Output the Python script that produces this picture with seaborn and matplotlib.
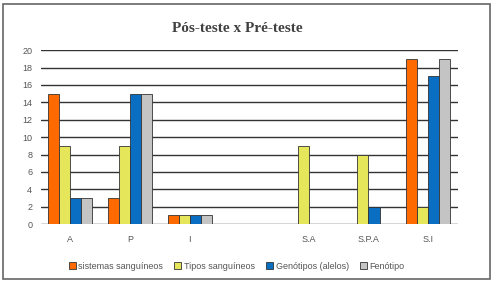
import matplotlib
matplotlib.use("Agg")
import matplotlib.pyplot as plt
import seaborn as sns
import pandas as pd
from matplotlib.patches import Rectangle

categories = ["A", "P", "I", " ", "S.A", "S.P.A", "S.I"]
series_names = ["sistemas sanguíneos", "Tipos sanguíneos", "Genótipos (alelos)", "Fenótipo"]
sistemas = [15, 3, 1, 0, 0, 0, 19]
tipos = [9, 9, 1, 0, 9, 8, 2]
genotipos = [3, 15, 1, 0, 0, 2, 17]
fenotipo = [3, 15, 1, 0, 0, 0, 19]
yticks = [0, 2, 4, 6, 8, 10, 12, 14, 16, 18, 20]

colors = ["#FF6A00", "#E6E65A", "#0A6FC2", "#C4C4C4"]

rows = []
for name, vals in zip(series_names, [sistemas, tipos, genotipos, fenotipo]):
    for c, v in zip(categories, vals):
        rows.append({"cat": c, "serie": name, "val": v})
df = pd.DataFrame(rows)

sns.set_style("white")
plt.rcParams['font.family'] = ['Liberation Sans', 'DejaVu Sans']

fig = plt.figure(figsize=(4.94, 2.82), dpi=100)
ax = fig.add_axes([0.082, 0.205, 0.845, 0.617])

sns.barplot(data=df, x="cat", y="val", hue="serie", order=categories,
            hue_order=series_names, palette=colors, width=0.74, saturation=1,
            edgecolor="#333333", linewidth=0.6, ax=ax, legend=True, zorder=3)

ax.set_ylim(0, 20)
ax.set_xlim(-0.5, 6.5)
ax.set_yticks(yticks)
ax.set_yticklabels([str(t) for t in yticks], fontsize=6.5, color="#555555")
ax.tick_params(axis="x", labelsize=6.5, colors="#555555", length=0, pad=8)
ax.tick_params(axis="y", length=0, pad=6)
ax.set_xlabel("")
ax.set_ylabel("")
for t in yticks:
    ax.axhline(t, color="#333333", linewidth=1.0, zorder=1)
for s in ax.spines.values():
    s.set_visible(False)

leg = ax.legend(loc="upper center", bbox_to_anchor=(0.47, -0.17), ncol=4,
                frameon=False, fontsize=6.5, handlelength=0.8, handleheight=0.8,
                handletextpad=0.3, columnspacing=1.2, labelcolor="#555555")

fig.text(0.48, 0.9, "Pós-teste x Pré-teste", ha="center", va="center",
         fontsize=11, fontweight="bold", family="Liberation Serif", color="#404040")

fig.patches.append(Rectangle((0.006, 0.012), 0.986, 0.975, transform=fig.transFigure,
                             fill=False, edgecolor="#666666", linewidth=1.2))

fig.savefig("out.png", dpi=100, facecolor="white")
